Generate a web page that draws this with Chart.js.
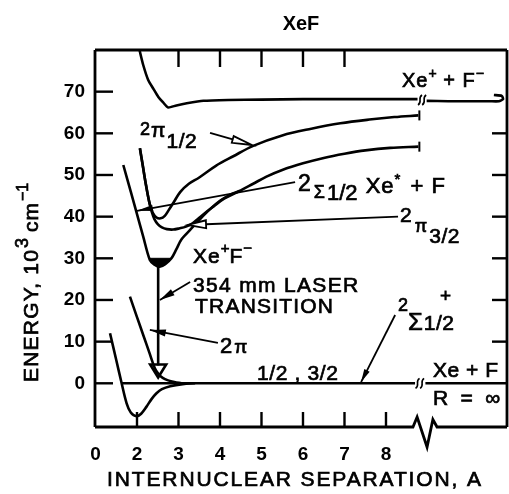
<!DOCTYPE html>
<html><head><meta charset="utf-8">
<script src="https://cdn.jsdelivr.net/npm/chart.js@4.4.0/dist/chart.umd.min.js"></script>
<style>html,body{margin:0;padding:0;background:#fff;overflow:hidden}</style>
</head><body><canvas id="c" width="509" height="494"></canvas>
<script>
// ---------- data ----------
const xTickValues = [1, 2, 3, 4, 5, 6, 7, 8];
const xTickLabels = ['0', '2', '3', '4', '5', '6', '7', '8'];
const yTickValues = [0, 10, 20, 30, 40, 50, 60, 70];
const yTickLabels = ['0', '10', '20', '30', '40', '50', '60', '70'];
const topTickValues = [3, 4, 5, 6, 7];
const rightTickValues = [10, 20, 30, 40, 50, 60];

// Xe+ + F- curve (asymptote ~68)
const ionAsymX = [2.06, 2.15, 2.27, 2.4, 2.51, 2.63, 2.75, 2.95, 3.2, 3.6, 4.2, 5.0, 6.0, 7.0, 8.0, 8.76, null, 8.98, 9.5, 10.0, 10.5, 10.72, 10.82, 10.79, 10.6];
const ionAsymY = [80, 76.4, 72.8, 70.6, 68.8, 67.4, 66.2, 66.7, 67.2, 67.8, 68.0, 68.1, 68.2, 68.2, 68.2, 68.2, null, 67.8, 67.7, 67.7, 67.7, 67.7, 68.2, 69.0, 69.2];
// 2 pi 1/2 (small well, asymptote ~64)
const pi12X = [2.07, 2.14, 2.22, 2.3, 2.38, 2.47, 2.57, 2.67, 2.76, 2.87, 3.04, 3.25, 3.5, 3.9, 4.32, 4.8, 5.5, 6.2, 6.9, 7.6, 8.2, 8.78];
const pi12Y = [56.4, 52.2, 47.4, 43.3, 40.9, 39.8, 39.6, 40.2, 41.5, 43.2, 45.9, 47.9, 49.4, 52.2, 54.5, 57.0, 59.5, 61.1, 62.4, 63.3, 63.9, 64.3];
// 2 pi 3/2 (larger well, asymptote ~57)
const pi32X = [2.07, 2.14, 2.22, 2.3, 2.36, 2.42, 2.5, 2.6, 2.72, 2.87, 3.03, 3.18, 3.32, 3.46, 3.64, 3.84, 4.1, 4.48, 4.8, 5.12, 5.5, 6.0, 6.5, 7.0, 7.5, 8.1, 8.78];
const pi32Y = [56.4, 52.2, 47.4, 43.3, 41.0, 39.4, 38.2, 37.4, 37.0, 36.9, 37.2, 37.6, 38.3, 39.4, 40.9, 42.4, 44.3, 46.2, 47.9, 49.6, 51.2, 52.8, 54.1, 55.1, 55.9, 56.5, 56.8];
// Xe+F- ionic well
const ionicX = [1.67, 1.85, 2.0, 2.15, 2.31, 2.42, 2.55, 2.68, 2.83, 2.95, 3.07, 3.28, 3.5, 3.76, 4.0, 4.25, 4.48];
const ionicY = [52.4, 46.0, 40.6, 35.2, 29.6, 28.5, 28.0, 28.6, 30.0, 32.2, 34.5, 36.8, 39.2, 41.8, 43.8, 45.3, 46.2];
// filled lowest level of the ionic well
const wellX = [2.31, 2.36, 2.42, 2.5, 2.58, 2.68, 2.76, 2.83, 2.31];
const wellY = [30, 29.0, 28.4, 28.0, 28.1, 28.6, 29.3, 30, 30];
// ground state 2Sigma+ 1/2
const groundX = [1.35, 1.5, 1.63, 1.75, 1.85, 1.99, 2.1, 2.23, 2.35, 2.47, 2.6, 2.8, 3.1, 3.4];
const groundY = [12, 5.6, 0, -4.8, -7.0, -7.9, -7.3, -5.6, -3.8, -2.4, -1.4, -0.7, -0.2, 0];
// repulsive 2pi 1/2,3/2
const repX = [1.83, 2.0, 2.15, 2.3, 2.43, 2.52, 2.62, 2.75, 2.9, 3.07];
const repY = [20.8, 15.9, 11.6, 7.3, 3.6, 2.2, 1.3, 0.7, 0.3, 0];
// Xe + F asymptote
const zeroX = [1.63, 8.7, null, 8.95, 10.916];
const zeroY = [0, 0, null, 0, 0];
// laser transition
const laserX = 2.51;
const laserY = [28.0, 1.4];

// ---------- chart ----------
const FONT = '"Liberation Sans", Arial, Helvetica, sans-serif';
const pts = (xs, ys) => xs.map((x, i) => (x === null ? {x: NaN, y: NaN} : {x: x, y: ys[i]}));
const curve = (xs, ys, w, t) => ({data: pts(xs, ys), borderColor: '#000', borderWidth: w, pointRadius: 0, tension: t, fill: false, spanGaps: false});

function P(chart, X, Y) { return [chart.scales.x.getPixelForValue(X), chart.scales.y.getPixelForValue(Y)]; }
function line(ctx, a, b) { ctx.beginPath(); ctx.moveTo(a[0], a[1]); ctx.lineTo(b[0], b[1]); ctx.stroke(); }
function arrow(ctx, a, b, len, wid, mode) {
  ctx.lineWidth = 1.8;
  const ang = Math.atan2(b[1] - a[1], b[0] - a[0]);
  const bx = b[0] - Math.cos(ang) * len, by = b[1] - Math.sin(ang) * len;
  line(ctx, a, mode === 'open' ? [bx, by] : b);
  const nx = -Math.sin(ang) * wid / 2, ny = Math.cos(ang) * wid / 2;
  ctx.beginPath(); ctx.moveTo(b[0], b[1]); ctx.lineTo(bx + nx, by + ny); ctx.lineTo(bx - nx, by - ny); ctx.closePath();
  if (mode === 'open') { ctx.fillStyle = '#fff'; ctx.fill(); ctx.stroke(); ctx.fillStyle = '#000'; }
  else { ctx.fill(); }
}
function txt(ctx, t, x, y) { ctx.fillText(t, x, y); ctx.strokeText(t, x, y); }
function rt(ctx, x, y, parts) {
  let cx = x;
  ctx.lineWidth = 0.7;
  for (const p of parts) {
    const [t, s, dy = 0, dx = 0, ls = 0] = p;
    ctx.font = s + 'px ' + FONT; ctx.letterSpacing = ls + 'px';
    cx += dx; txt(ctx, t, cx, y + dy); cx += ctx.measureText(t).width;
  }
  ctx.letterSpacing = '0px';
}
function fit(ctx, t, x0, x1, y, s) {
  ctx.lineWidth = 0.7;
  ctx.font = s + 'px ' + FONT; ctx.letterSpacing = '0px';
  const w = ctx.measureText(t).width;
  const ls = Math.max(0, (x1 - x0 - w) / Math.max(1, t.length - 1));
  ctx.letterSpacing = ls + 'px'; txt(ctx, t, x0, y); ctx.letterSpacing = '0px';
}
function squiggle(ctx, c, h) {
  ctx.beginPath(); ctx.moveTo(c[0] + 2, c[1] - h);
  ctx.bezierCurveTo(c[0] - 3, c[1] - h / 3, c[0] + 3, c[1] + h / 3, c[0] - 2, c[1] + h); ctx.stroke();
}

const deco = {
  id: 'deco',
  afterDraw(chart) {
    const ctx = chart.ctx, a = chart.chartArea, xs = chart.scales.x, ys = chart.scales.y;
    ctx.save();
    ctx.strokeStyle = '#000'; ctx.fillStyle = '#000'; ctx.lineCap = 'butt'; ctx.lineJoin = 'miter';
    // frame
    ctx.lineWidth = 2.8;
    line(ctx, [a.left, a.top], [a.right, a.top]);
    line(ctx, [a.left, a.top], [a.left, a.bottom]);
    line(ctx, [a.right, a.top], [a.right, a.bottom]);
    ctx.beginPath();
    ctx.moveTo(a.left, a.bottom);
    const zz = [[8.65, -10.49], [8.75, -8.1], [8.99, -15.3], [9.13, -8.7], [9.23, -10.49]];
    zz.forEach(p => { const q = P(chart, p[0], p[1]); ctx.lineTo(q[0], q[1]); });
    ctx.lineTo(a.right, a.bottom); ctx.stroke();
    // inward ticks
    ctx.lineWidth = 2.4;
    yTickValues.forEach(v => { const y = ys.getPixelForValue(v); line(ctx, [a.left, y], [a.left + 18, y]); });
    rightTickValues.forEach(v => { const y = ys.getPixelForValue(v); line(ctx, [a.right - 15, y], [a.right, y]); });
    xTickValues.slice(1).forEach(v => { const x = xs.getPixelForValue(v); line(ctx, [x, a.bottom], [x, a.bottom - 15]); });
    topTickValues.forEach(v => { const x = xs.getPixelForValue(v); line(ctx, [x, a.top], [x, a.top + 17]); });
    // axis breaks on the two asymptotes
    ctx.lineWidth = 1.6;
    [8.82, 8.92].forEach(X => squiggle(ctx, P(chart, X, 68.0), 5));
    [8.76, 8.87].forEach(X => squiggle(ctx, P(chart, X, 0), 5));
    // end bars of the two excited curves
    ctx.lineWidth = 2;
    [[pi12X, pi12Y], [pi32X, pi32Y]].forEach(([cx, cy]) => {
      const e = P(chart, cx[cx.length - 1], cy[cy.length - 1]);
      line(ctx, [e[0] + 1, e[1] - 5], [e[0] + 1, e[1] + 5]);
    });
    // laser transition
    ctx.lineWidth = 2.6;
    const l0 = P(chart, laserX, laserY[0]), l1 = P(chart, laserX, laserY[1]);
    line(ctx, l0, [l1[0], l1[1] - 12]);
    ctx.beginPath(); ctx.moveTo(l1[0], l1[1]); ctx.lineTo(l1[0] - 8, l1[1] - 13); ctx.lineTo(l1[0] + 8, l1[1] - 13); ctx.closePath();
    ctx.stroke();
    // pointer arrows
    arrow(ctx, P(chart, 3.76, 60.1), P(chart, 4.77, 57.2), 20, 7, 'open');
    arrow(ctx, P(chart, 5.81, 48.3), P(chart, 2.0, 41.4), 16, 6, 'fill');
    arrow(ctx, P(chart, 8.29, 40.0), P(chart, 3.23, 38.0), 18, 8, 'open');
    arrow(ctx, P(chart, 3.28, 24.3), P(chart, 2.55, 20.0), 15, 7, 'fill');
    arrow(ctx, P(chart, 3.95, 9.7), P(chart, 2.31, 12.8), 16, 7, 'fill');
    arrow(ctx, P(chart, 8.22, 16.4), P(chart, 7.4, 0.3), 13, 6, 'fill');
    // labels
    ctx.textAlign = 'left'; ctx.textBaseline = 'alphabetic';
    let p;
    p = P(chart, 8.386, 71.1); rt(ctx, p[0], p[1], [['Xe', 20, 0, 0, 1], ['+', 14, -9, 0], [' + F', 20, 0, 0, 1], ['\u2212', 14, -9, 0]]);
    p = P(chart, 2.072, 59.4); rt(ctx, p[0], p[1], [['2', 18, -1], ['\u03c0', 21, 1, 1], ['1/2', 21, 12, 1, 0.5]]);
    p = P(chart, 5.88, 45.7); rt(ctx, p[0], p[1], [['2', 23, -2], ['\u03a3', 18, 5, 3], ['1/2', 22, 7, 2], [' Xe', 22, 0, 1, 1], ['*', 15, -9, 0], [' + F', 22, 0, 3, 1]]);
    p = P(chart, 8.34, 38.7); rt(ctx, p[0], p[1], [['2', 21, 0], ['\u03c0', 18, 10, 3], ['3/2', 21, 21, 2, 0.5]]);
    p = P(chart, 3.35, 28.9); rt(ctx, p[0], p[1], [['Xe', 21, 0, 0, 1], ['+', 15, -10, 0], ['F', 21, 0, 0], ['\u2212', 15, -10, 1]]);
    p = P(chart, 3.35, 21.9); fit(ctx, '354 mm LASER', p[0], xs.getPixelForValue(7.33), p[1], 21);
    p = P(chart, 3.40, 16.9); fit(ctx, 'TRANSITION', p[0], xs.getPixelForValue(6.72), p[1], 21);
    p = P(chart, 4.0, 7.27); rt(ctx, p[0], p[1], [['2', 22, 0], ['\u03c0', 19, 0, 2]]);
    p = P(chart, 4.89, 0.79); fit(ctx, '1/2 , 3/2', p[0], xs.getPixelForValue(6.84), p[1], 21);
    p = P(chart, 8.29, 17.4); rt(ctx, p[0], p[1], [['2', 18, 0]]);
    p = P(chart, 8.53, 12.8); rt(ctx, p[0], p[1], [['\u03a3', 24, 0], ['1/2', 21, 0, 1, 0.5]]);
    p = P(chart, 9.3, 19.6); rt(ctx, p[0], p[1], [['+', 19, 0]]);
    p = P(chart, 9.13, 1.51); fit(ctx, 'Xe + F', p[0], xs.getPixelForValue(10.7), p[1], 21);
    p = P(chart, 9.13, -5.2); fit(ctx, 'R = \u221e', p[0], xs.getPixelForValue(10.75), p[1], 21);
    // axis titles
    fit(ctx, 'INTERNUCLEAR SEPARATION, A', 107, 481, 486, 21);
    ctx.save(); ctx.translate(38, 382); ctx.rotate(-Math.PI / 2);
    rt(ctx, 0, 0, [['ENERGY, 10', 21, 0, 0, 1.2], ['3', 18, -10, 1], ['cm', 21, 0, 6, 1], ['\u22121', 16, -10, 1]]);
    ctx.restore();
    ctx.restore();
  }
};

new Chart(document.getElementById('c'), {
  type: 'line',
  data: {
    datasets: [
      curve(ionAsymX, ionAsymY, 2.6, 0.2),
      curve(pi12X, pi12Y, 2.6, 0.35),
      curve(pi32X, pi32Y, 2.6, 0.35),
      curve(ionicX, ionicY, 2.6, 0.3),
      {data: pts(wellX, wellY), borderColor: '#000', backgroundColor: '#000', borderWidth: 1, pointRadius: 0, tension: 0, fill: 'shape'},
      curve(groundX, groundY, 2.6, 0.35),
      curve(repX, repY, 2.6, 0.35),
      curve(zeroX, zeroY, 2.6, 0)
    ]
  },
  options: {
    responsive: false, animation: false, devicePixelRatio: 1,
    layout: {padding: {top: 0, right: 2, left: 0, bottom: 0}},
    plugins: {
      legend: {display: false}, tooltip: {enabled: false},
      title: {display: true, text: 'XeF', fullSize: false, color: '#000', font: {family: FONT, size: 20, weight: 'bold'}, padding: {top: 12, bottom: 14}}
    },
    scales: {
      x: {
        type: 'linear', min: 0.988, max: 10.916,
        grid: {display: false, drawTicks: false}, border: {display: false},
        afterBuildTicks: s => { s.ticks = xTickValues.map(v => ({value: v})); },
        ticks: {callback: (v, i) => xTickLabels[i], color: '#000', font: {family: FONT, size: 19, weight: 'bold'}, padding: 16, maxRotation: 0, autoSkip: false},
        afterFit: s => { s.height = 67; }
      },
      y: {
        type: 'linear', min: -10.49, max: 80.0,
        grid: {display: false, drawTicks: false}, border: {display: false},
        afterBuildTicks: s => { s.ticks = yTickValues.map(v => ({value: v})); },
        ticks: {callback: (v, i) => yTickLabels[i], color: '#000', font: {family: FONT, size: 19, weight: 'bold'}, padding: 10, autoSkip: false},
        afterFit: s => { s.width = 95; }
      }
    }
  },
  plugins: [deco]
});
</script>
</body></html>
